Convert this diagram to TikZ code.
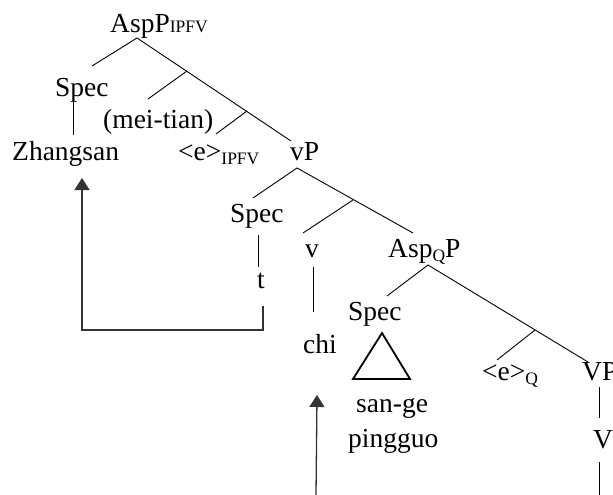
\documentclass[tikz,border=0pt]{standalone}
\usepackage{fontspec}
\setmainfont{Liberation Serif}
\usetikzlibrary{arrows.meta}
\newcommand\lsub[2][0pt]{\raisebox{#1}{\fontsize{17.5}{20}\selectfont #2}}
\begin{document}
\begin{tikzpicture}[x=1pt,y=-1pt,
  lbl/.style={inner sep=0pt,anchor=base west,font=\fontsize{27.5}{33}\selectfont},
  branch/.style={line width=0.9pt},
  tri/.style={line width=1.8pt,line join=miter},
  move/.style={line width=1.3pt,black!80,-{Triangle[length=12pt,width=15pt]}}]
\useasboundingbox (0,0) rectangle (613,495);

% labels
\node[lbl] (asp)   at (110,33)  {AspP\lsub{IPFV}};
\node[lbl] (spa)   at (55,96)   {Spec};
\node[lbl] (zs)    at (12,160)  {Zhangsan};
\node[lbl] (mt)    at (103,128) {(mei-tian)};
\node[lbl] (eipfv) at (178,160) {<e>\lsub[-4pt]{IPFV}};
\node[lbl] (vp)    at (290,160) {vP};
\node[lbl] (spb)   at (230,222) {Spec};
\node[lbl] (t)     at (257,288) {t};
\node[lbl] (v)     at (305,257) {v};
\node[lbl] (aspq)  at (388,257) {Asp\lsub[-4pt]{Q}P};
\node[lbl] (chi)   at (303,353) {chi};
\node[lbl] (spc)   at (348,320) {Spec};
\node[lbl] (sg)    at (356,412) {san-ge};
\node[lbl] (pg)    at (348,447) {pingguo};
\node[lbl] (eq)    at (482,380) {<e>\lsub[-4pt]{Q}};
\node[lbl] (bigvp) at (582,380) {VP};
\node[lbl] (bigv)  at (593,448) {V};

% branch points
\coordinate (r0) at (137,38);  \coordinate (r0l) at (92,66);
\coordinate (r0r) at (291,141);
\coordinate (m1) at (187,71);  \coordinate (m1l) at (148,99);
\coordinate (m2) at (247,111); \coordinate (m2l) at (216,134);
\coordinate (sa1) at (73,102); \coordinate (sa2) at (73,135);

\coordinate (v0) at (297,168); \coordinate (v0l) at (253,198);
\coordinate (v0r) at (413,233);
\coordinate (n1) at (353,200); \coordinate (n1l) at (303,233);
\coordinate (sb1) at (258,235); \coordinate (sb2) at (258,267);
\coordinate (vv1) at (313,267); \coordinate (vv2) at (313,312);

\coordinate (q0) at (428,265); \coordinate (q0l) at (387,296);
\coordinate (q0r) at (588,362);
\coordinate (k1) at (535,330); \coordinate (k1l) at (497,360);
\coordinate (ta) at (382,333); \coordinate (tb) at (353,379);
\coordinate (tc) at (410,379);
\coordinate (bv1) at (599,387); \coordinate (bv2) at (599,418);
\coordinate (bv3) at (599,462); \coordinate (bv4) at (599,495);

% movement paths
\coordinate (t1) at (263,306); \coordinate (t2) at (263,330);
\coordinate (t3) at (82,330);  \coordinate (zt) at (82,178);
\coordinate (c1) at (316,495); \coordinate (ct) at (317,395);

% tree branches
\draw[branch] (r0l) -- (r0) -- (r0r);
\draw[branch] (m1) -- (m1l);
\draw[branch] (m2) -- (m2l);
\draw[branch] (sa1) -- (sa2);
\draw[branch] (v0l) -- (v0) -- (v0r);
\draw[branch] (n1) -- (n1l);
\draw[branch] (sb1) -- (sb2);
\draw[branch] (vv1) -- (vv2);
\draw[branch] (q0l) -- (q0) -- (q0r);
\draw[branch] (k1) -- (k1l);
\draw[branch] (bv1) -- (bv2);
\draw[branch] (bv3) -- (bv4);
\draw[tri] (ta) -- (tb) -- (tc) -- cycle;

% movement arrows
\draw[move] (t1) -- (t2) -- (t3) -- (zt);
\draw[move] (c1) -- (ct);
\end{tikzpicture}
\end{document}
